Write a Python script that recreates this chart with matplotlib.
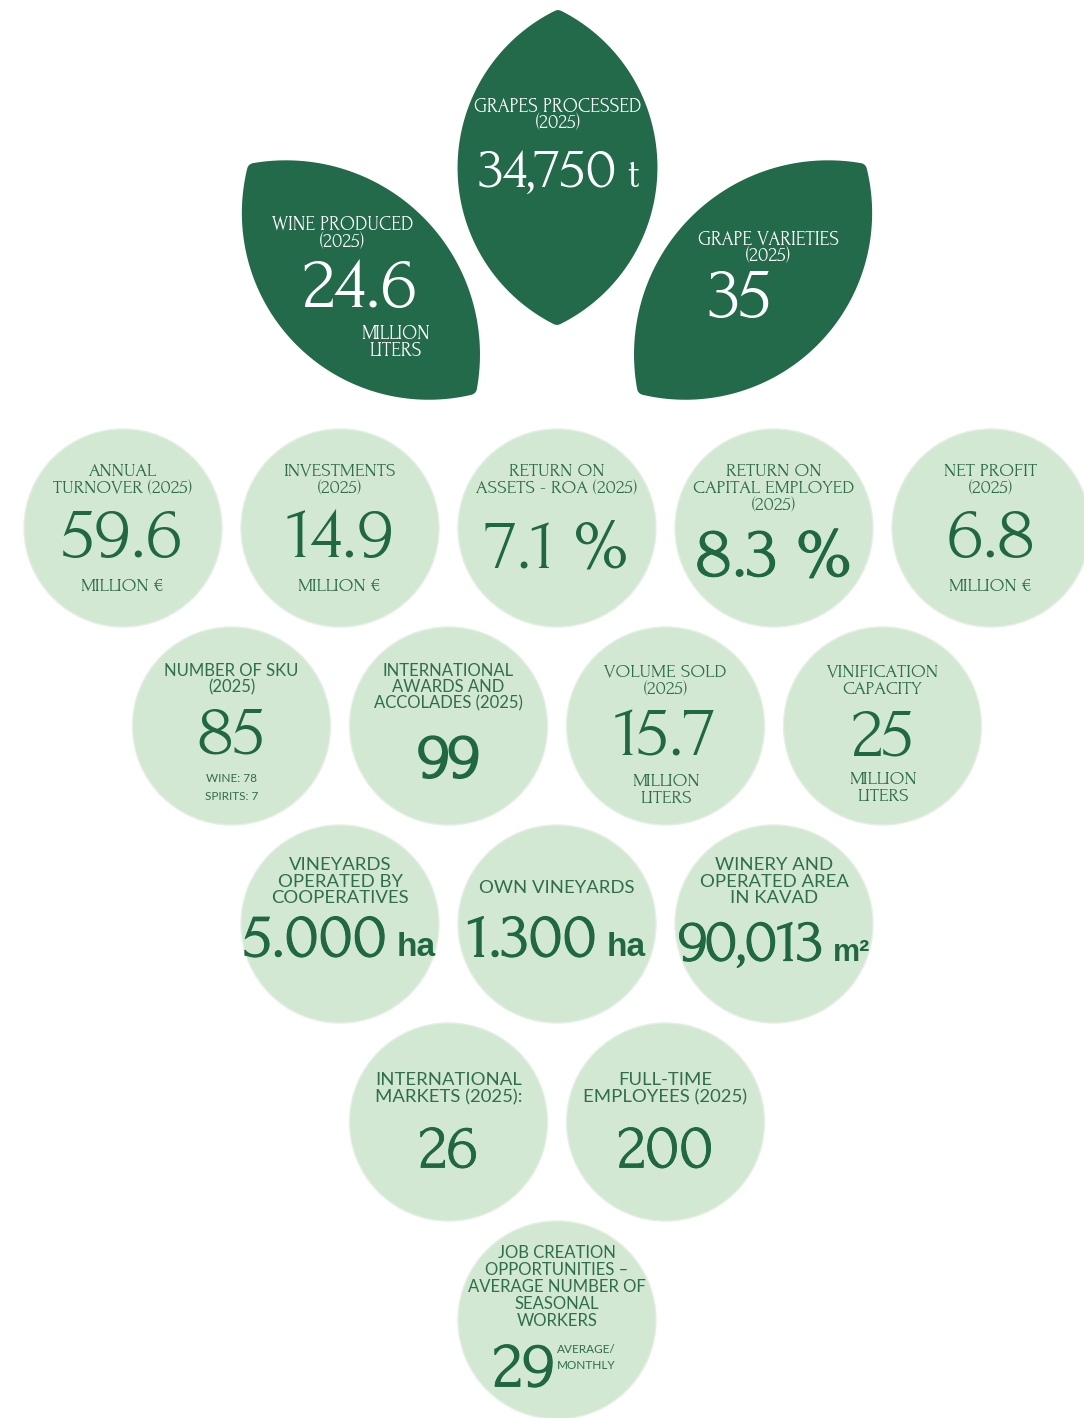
import numpy as np
import matplotlib.pyplot as plt
from matplotlib.patches import Circle, Polygon
from matplotlib import font_manager
from matplotlib.font_manager import FontProperties
import matplotlib.patheffects as pe

fonts = {f.name for f in font_manager.fontManager.ttflist}
MAIN = 'Forum' if 'Forum' in fonts else 'DejaVu Serif'
SERIF = [MAIN, 'DejaVu Sans']
SANS = ['Lato', 'DejaVu Sans']
SUF_FONT = ['Liberation Sans', 'DejaVu Sans']

DARK = '#236a4a'
LIGHT = '#d2e8d3'
LAB_C = '#2e6e4a'
NUM_C = '#1f6842'

# leaves: left, centre, right
leaf_labels = [['WINE PRODUCED', '(2025)'], ['GRAPES PROCESSED', '(2025)'], ['GRAPE VARIETIES', '(2025)']]
leaf_values = ['24.6', '34,750', '35']
leaf_suffix = ['', 't', '']
leaf_units = [['MILLION', 'LITERS'], [], []]

# bubbles, row by row (top to bottom)
row_sizes = [5, 4, 3, 2, 1]
labels = [
    ['ANNUAL', 'TURNOVER (2025)'],
    ['INVESTMENTS', '(2025)'],
    ['RETURN ON', 'ASSETS - ROA (2025)'],
    ['RETURN ON', 'CAPITAL EMPLOYED', '(2025)'],
    ['NET PROFIT', '(2025)'],
    ['NUMBER OF SKU', '(2025)'],
    ['INTERNATIONAL', 'AWARDS AND', 'ACCOLADES (2025)'],
    ['VOLUME SOLD', '(2025)'],
    ['VINIFICATION', 'CAPACITY'],
    ['VINEYARDS', 'OPERATED BY', 'COOPERATIVES'],
    ['OWN VINEYARDS'],
    ['WINERY AND', 'OPERATED AREA', 'IN KAVAD'],
    ['INTERNATIONAL', 'MARKETS (2025):'],
    ['FULL-TIME', 'EMPLOYEES (2025)'],
    ['JOB CREATION', 'OPPORTUNITIES –', 'AVERAGE NUMBER OF', 'SEASONAL', 'WORKERS'],
]
values = ['59.6', '14.9', '7.1 %', '8.3 %', '6.8', '85', '99', '15.7', '25',
          '5.000', '1.300', '90,013', '26', '200', '29']
suffixes = ['', '', '', '', '', '', '', '', '', 'ha', 'ha', 'm²', '', '', '']
units = [['MILLION €'], ['MILLION €'], [], [], ['MILLION €'], ['WINE: 78', 'SPIRITS: 7'], [],
         ['MILLION', 'LITERS'], ['MILLION', 'LITERS'], [], [], [], [], [], ['AVERAGE/', 'MONTHLY']]

# layout: label_dy, label_font, label_size, label_step, value_dy, value_size, stroke, unit_dy, unit_font, unit_size
lay = [
    (-59, SERIF, 14, 17, 5, 54, 0, 56, SERIF, 14),
    (-59, SERIF, 14, 17, 5, 54, 0, 56, SERIF, 14),
    (-59, SERIF, 14, 17, 16, 52, 0, 0, SERIF, 14),
    (-59, SERIF, 14, 17, 25, 52, 0.7, 0, SERIF, 14),
    (-59, SERIF, 14, 17, 5, 54, 0, 56, SERIF, 14),
    (-56, SANS, 12, 17, 4, 52, 0, 52, SANS, 8.5),
    (-56, SANS, 12, 16.5, 30, 48, 1.3, 0, SANS, 12),
    (-56, SERIF, 14, 17, 6, 52, 0, 53, SERIF, 14),
    (-56, SERIF, 14, 17, 6, 52, 0, 51, SERIF, 14),
    (-60, SANS, 13.3, 16.5, 12, 46, 0.8, 0, SANS, 12),
    (-37, SANS, 13.3, 16.5, 12, 46, 0.8, 0, SANS, 12),
    (-60, SANS, 13.3, 16.5, 17, 44, 0.8, 0, SANS, 12),
    (-43, SANS, 13.3, 17, 25, 46, 0.6, 0, SANS, 12),
    (-43, SANS, 13.3, 17, 25, 46, 0.6, 0, SANS, 12),
    (-68, SANS, 12, 17, 45, 48, 0.8, 29, SANS, 8.5),
]

W, H = 1084, 1418
fig = plt.figure(figsize=(W / 100, H / 100), dpi=100)
ax = fig.add_axes([0, 0, 1, 1])
ax.set_xlim(0, W)
ax.set_ylim(H, 0)
ax.axis('off')
r = fig.canvas.get_renderer()


def px(pt):
    return pt * 100 / 72


def txt(x, y, s, size, color, font, ha='center', stroke=0):
    # y is the vertical centre of capitals
    t = ax.text(x, y + 0.32 * px(size), s, fontsize=size, color=color, family=font,
                ha=ha, va='baseline')
    if stroke:
        t.set_path_effects([pe.withStroke(linewidth=stroke, foreground=color)])
    return t


def lines(x, y, ls, size, color, font, step=17, ha='center'):
    # one text block; y = centre of the first line, baseline-to-baseline = step px
    if not ls:
        return
    fp = FontProperties(family=font, size=size)
    _, lh, ld = r.get_text_width_height_descent('lp', fp, ismath=False)
    lsp = (step - ld) / (lh - ld)
    # va='baseline' anchors the last line
    yb = y + 0.35 * px(size) + (len(ls) - 1) * step
    ax.text(x, yb, '\n'.join(ls), fontproperties=fp, color=color,
            ha=ha, va='baseline', linespacing=lsp, multialignment=ha)


def pair(x, y, big, small, size, ssize, color, stroke=0, sfont=SUF_FONT, sweight='bold'):
    t1 = txt(x, y, big, size, color, SERIF, stroke=stroke)
    if not small:
        return
    t1.set_ha('left')
    t2 = ax.text(0, y + 0.32 * px(size), small, fontsize=ssize, color=color, family=sfont,
                 fontweight=sweight, ha='left', va='baseline')
    w1 = t1.get_window_extent(r).width
    w2 = t2.get_window_extent(r).width
    gap = 10
    x0 = x - (w1 + gap + w2) / 2
    t1.set_x(x0)
    t2.set_x(x0 + w1 + gap)


def lens(a, b, h1, h2, n=120):
    a, b = np.array(a, float), np.array(b, float)
    mid = (a + b) / 2
    L = np.linalg.norm(b - a) / 2
    u = (b - a) / (2 * L)
    nv = np.array([-u[1], u[0]])
    s = np.linspace(-L, L, n)
    pts = []
    for h, sign, ss in [(h1, 1, s), (h2, -1, s[::-1])]:
        R = (L ** 2 + h ** 2) / (2 * h)
        off = np.sqrt(R ** 2 - ss ** 2) - (R - h)
        pts.append(mid + ss[:, None] * u + sign * off[:, None] * nv)
    return np.vstack(pts)


left = lens((254, 170), (470, 388), 86, 80)
right = left.copy()
right[:, 0] = 2 * 557 - right[:, 0]
centre = lens((558, 17), (557, 318), 93, 93)
for p in [left, centre, right]:
    ax.add_patch(Polygon(p, closed=True, facecolor=DARK, edgecolor=DARK, lw=10, joinstyle='round'))

# leaf texts
lines(343, 223, leaf_labels[0], 14.3, 'white', SERIF)
pair(360, 283, leaf_values[0], leaf_suffix[0], 54, 26, 'white')
lines(395, 332, leaf_units[0], 14.3, 'white', SERIF)
lines(558, 105, leaf_labels[1], 14.3, 'white', SERIF, step=16)
pair(559, 168, leaf_values[1], leaf_suffix[1], 42, 30, 'white', sfont=SERIF, sweight='normal')
lines(768, 237, leaf_labels[2], 14.3, 'white', SERIF)
pair(740, 293, leaf_values[2], leaf_suffix[2], 53, 26, 'white')

# bubbles
i = 0
for row, n in enumerate(row_sizes):
    cy = 528 + row * 198
    for j in range(n):
        cx = 557 + (j - (n - 1) / 2) * 217
        ax.add_patch(Circle((cx, cy), 99, facecolor=LIGHT, edgecolor='#e3f0e3', lw=1))
        ldy, lfont, lsz, lstep, vdy, vsz, stroke, udy, ufont, usz = lay[i]
        lines(cx, cy + ldy, labels[i], lsz, LAB_C, lfont, step=lstep)
        if i == 14:
            txt(cx - 33, cy + vdy, values[i], vsz, NUM_C, SERIF, stroke=stroke)
            lines(cx, cy + udy, units[i], usz, LAB_C, ufont, step=16, ha='left')
        else:
            pair(cx, cy + vdy, values[i], suffixes[i], vsz, 24 if suffixes[i] == 'ha' else 22,
                 NUM_C, stroke)
            lines(cx, cy + udy, units[i], usz, LAB_C, ufont, step=18 if usz < 10 else 17)
        i += 1

fig.savefig('out.png', dpi=100, facecolor='white')
